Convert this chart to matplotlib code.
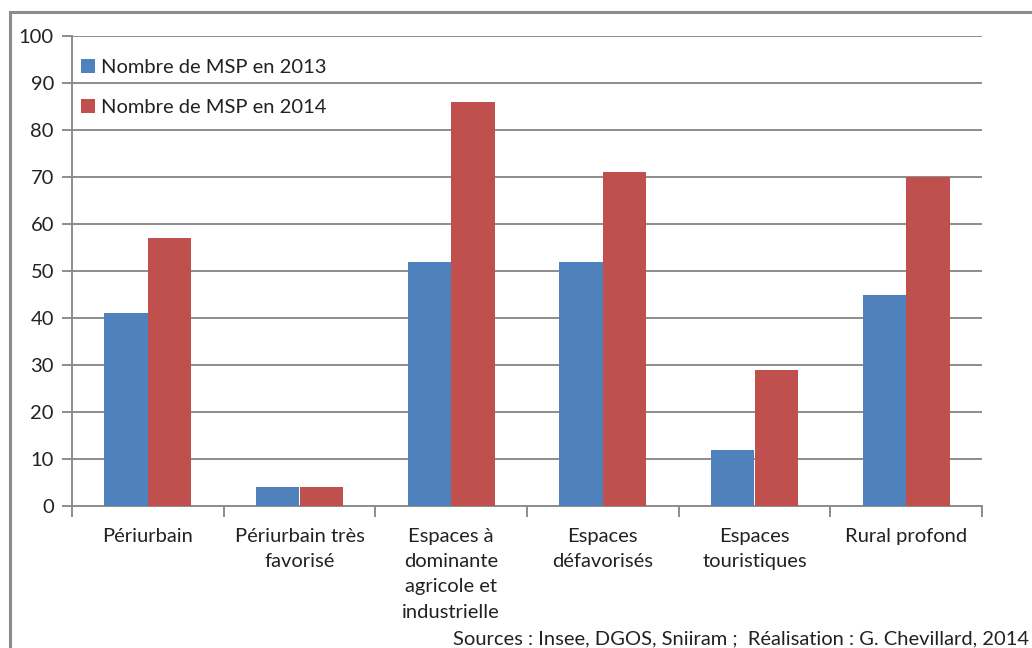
import matplotlib
matplotlib.use("Agg")
import matplotlib.pyplot as plt
import numpy as np
from matplotlib.patches import Rectangle

categories = ["Périurbain", "Périurbain très\nfavorisé", "Espaces à\ndominante\nagricole et\nindustrielle",
              "Espaces\ndéfavorisés", "Espaces\ntouristiques", "Rural profond"]
msp_2013 = [41, 4, 52, 52, 12, 45]
msp_2014 = [57, 4, 86, 71, 29, 70]
series_labels = ["Nombre de MSP en 2013", "Nombre de MSP en 2014"]
yticks = [0, 10, 20, 30, 40, 50, 60, 70, 80, 90, 100]
source = "Sources : Insee, DGOS, Sniiram ;  Réalisation : G. Chevillard, 2014"

plt.rcParams['font.family'] = ['Lato', 'DejaVu Sans']
fig = plt.figure(figsize=(10.32, 6.48), dpi=100)
W, H = 1032, 648
ax = fig.add_axes([72/W, 1-506/H, (982-72)/W, (506-36)/H])

fs = 14.5
txtc = "#222222"
gridc = "#8c8c8c"
x = np.arange(len(categories))
w = 0.287
ax.bar(x - w/2, msp_2013, w, color="#4F81BD", label=series_labels[0], zorder=3)
ax.bar(x + w/2, msp_2014, w, color="#C0504D", label=series_labels[1], zorder=3)

ax.set_xlim(-0.5, len(categories) - 0.5)
ax.set_ylim(0, 100)
ax.set_yticks(yticks)
ax.set_yticklabels([str(v) for v in yticks], fontsize=fs, color=txtc)
ax.yaxis.grid(True, color=gridc, linewidth=1.4, zorder=0)
ax.set_axisbelow(True)
for s in ["top", "right"]:
    ax.spines[s].set_visible(False)
for s in ["left", "bottom"]:
    ax.spines[s].set_color(gridc)
    ax.spines[s].set_linewidth(1.4)
ax.tick_params(axis='y', length=7, color=gridc, width=1.4, pad=6)
ax.set_xticks(np.arange(-0.5, len(categories) + 0.5, 1.0))
ax.set_xticklabels([])
ax.tick_params(axis='x', length=8, color=gridc, width=1.4)
for i, c in enumerate(categories):
    ax.text(i, -4.6, c, ha='center', va='top', fontsize=fs, color=txtc,
            linespacing=1.6, transform=ax.transData)

leg = ax.legend(loc='upper left', bbox_to_anchor=(-0.006, 0.982), frameon=False,
                fontsize=fs, handlelength=0.7, handleheight=0.7, handletextpad=0.3,
                labelspacing=1.15, borderaxespad=0.3)
for t in leg.get_texts():
    t.set_color(txtc)

fig.patches.append(Rectangle((10/W, -0.1), 1.2, 1.1 - 12/H, transform=fig.transFigure,
                             fill=False, edgecolor="#8c8c8c", linewidth=2.2))
fig.text(1029/W, 1-647/H, source, ha='right', va='bottom', fontsize=fs, color=txtc)

fig.savefig("out.png", dpi=100)
